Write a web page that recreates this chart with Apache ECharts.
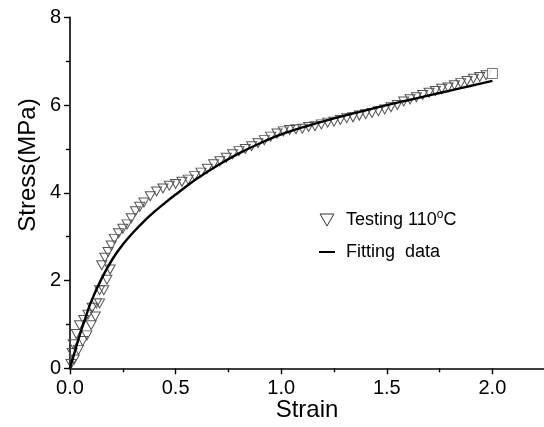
<!DOCTYPE html>
<html>
<head>
<meta charset="utf-8">
<script src="https://cdn.jsdelivr.net/npm/echarts@6/dist/echarts.min.js"></script>
<style>html,body{margin:0;padding:0;background:#fff;}#c{width:544px;height:427px;}</style>
</head>
<body>
<div id="c"></div>
<script>
// Test data (strain, stress MPa) - down-triangle markers
var testingData = [
  [0.005,0.10],[0.010,0.35],[0.015,0.55],[0.020,0.20],[0.030,0.78],[0.040,0.42],[0.045,0.98],
  [0.060,0.62],[0.065,1.10],[0.080,0.75],[0.085,1.22],[0.100,0.98],[0.105,1.38],[0.120,1.18],
  [0.125,1.48],[0.140,1.48],[0.140,1.78],[0.150,2.35],[0.160,1.78],[0.165,2.52],[0.175,2.02],
  [0.180,2.65],[0.190,2.25],[0.195,2.80],[0.210,2.95],[0.230,3.08],[0.250,3.18],[0.270,3.28],
  [0.290,3.42],[0.310,3.58],[0.330,3.68],[0.350,3.78],[0.380,3.92],[0.410,4.03],[0.440,4.10],
  [0.470,4.16],[0.500,4.20],[0.530,4.25],[0.560,4.30],[0.590,4.38],[0.620,4.46],[0.650,4.55],
  [0.680,4.65],[0.710,4.72],[0.740,4.80],[0.770,4.88],[0.800,4.95],[0.830,5.00],[0.860,5.06],
  [0.890,5.13],[0.920,5.20],[0.950,5.28],[0.980,5.35],[1.010,5.40],[1.040,5.43],[1.070,5.45],
  [1.100,5.46],[1.130,5.50],[1.160,5.52],[1.190,5.56],[1.220,5.60],[1.250,5.62],[1.280,5.66],
  [1.310,5.70],[1.340,5.72],[1.370,5.76],[1.400,5.79],[1.430,5.82],[1.460,5.86],[1.490,5.90],
  [1.520,5.95],[1.550,6.00],[1.580,6.08],[1.610,6.13],[1.640,6.18],[1.670,6.23],[1.700,6.28],
  [1.730,6.32],[1.760,6.37],[1.790,6.40],[1.820,6.45],[1.850,6.50],[1.880,6.55],[1.910,6.60],
  [1.940,6.64],[1.970,6.68]
];
// Last test point drawn as a square
var endPoint = [[2.0, 6.72]];
// Fitting curve (strain, stress MPa)
var fittingStrain = [0,0.025,0.05,0.075,0.1,0.15,0.2,0.25,0.3,0.35,0.4,0.45,0.5,0.6,0.7,0.8,0.9,1.0,1.1,1.2,1.3,1.4,1.5,1.6,1.7,1.8,1.9,2.0];
var fittingStress = [0,0.42,0.82,1.18,1.52,2.05,2.48,2.82,3.10,3.35,3.57,3.77,3.96,4.32,4.63,4.90,5.13,5.33,5.49,5.63,5.76,5.88,6.00,6.11,6.22,6.33,6.44,6.55];
var xTicks = {min: 0, max: 2.5, interval: 0.5};
var yTicks = {min: 0, max: 8, interval: 2};
var seriesNames = ['Testing 110°C', 'Fitting  data'];

var fitData = fittingStrain.map(function (x, i) { return [x, fittingStress[i]]; });
var FONT = 'Liberation Sans, Arial, sans-serif';
var triPath = 'path://M0,0L10,0L5,8.66Z';

var chart = echarts.init(document.getElementById('c'), null, {renderer: 'canvas'});
chart.setOption({
  animation: false,
  backgroundColor: '#fff',
  grid: {left: 70, top: 17.3, height: 351, width: 528, containLabel: false, outerBoundsMode: 'none'},
  xAxis: {
    type: 'value', min: xTicks.min, max: xTicks.max, interval: xTicks.interval,
    axisLine: {onZero: false, lineStyle: {color: '#000', width: 1.6}},
    axisTick: {show: true, inside: false, length: 6, lineStyle: {color: '#000', width: 1.4}},
    minorTick: {show: true, splitNumber: 2, length: 4, lineStyle: {color: '#000', width: 1.4}},
    splitLine: {show: false},
    axisLabel: {margin: 10, fontSize: 20, fontFamily: FONT, color: '#000', showMaxLabel: false,
      formatter: function (v) { return v.toFixed(1); }}
  },
  yAxis: {
    type: 'value', min: yTicks.min, max: yTicks.max, interval: yTicks.interval,
    axisLine: {show: true, onZero: false, lineStyle: {color: '#000', width: 1.6}},
    axisTick: {show: true, inside: false, length: 6, lineStyle: {color: '#000', width: 1.4}},
    minorTick: {show: true, splitNumber: 2, length: 4, lineStyle: {color: '#000', width: 1.4}},
    splitLine: {show: false},
    axisLabel: {margin: 9, fontSize: 20, fontFamily: FONT, color: '#000'}
  },
  legend: {
    orient: 'vertical', left: 314, top: 204, itemWidth: 16, itemHeight: 12, itemGap: 14,
    textStyle: {fontSize: 18, fontFamily: FONT, color: '#000', padding: [0, 0, 0, 6],
      rich: {sup: {fontSize: 12, fontFamily: FONT, color: '#000', verticalAlign: 'top', padding: [0, 0, 10, 0]}}},
    formatter: function (name) { return name === seriesNames[0] ? 'Testing 110{sup|o}C' : name; },
    data: [
      {name: seriesNames[0], icon: triPath, itemStyle: {color: 'rgba(0,0,0,0)', borderColor: '#333', borderWidth: 1}},
      {name: seriesNames[1], icon: 'path://M0,0H16V2H0Z', itemStyle: {color: '#000'}}
    ]
  },
  graphic: [
    {type: 'text', x: 307, y: 410, style: {text: 'Strain', font: '24px ' + FONT, fill: '#000', align: 'center', verticalAlign: 'middle'}},
    {type: 'text', x: 28, y: 165, rotation: Math.PI / 2, style: {text: 'Stress(MPa)', font: '24px ' + FONT, fill: '#000', align: 'center', verticalAlign: 'middle'}}
  ],
  series: [
    {
      name: seriesNames[0], type: 'scatter', data: testingData,
      symbol: triPath, symbolSize: [10, 9],
      itemStyle: {color: 'rgba(0,0,0,0)', borderColor: '#555', borderWidth: 1, opacity: 1},
      z: 2
    },
    {
      name: 'end', type: 'scatter', data: endPoint,
      symbol: 'rect', symbolSize: 10,
      itemStyle: {color: '#fff', borderColor: '#555', borderWidth: 1}, z: 2
    },
    {
      name: seriesNames[1], type: 'line', data: fitData, smooth: 0.3,
      showSymbol: false, symbol: 'none',
      lineStyle: {color: '#000', width: 2.4}, itemStyle: {color: '#000'}, z: 3
    }
  ]
});
</script>
</body>
</html>
